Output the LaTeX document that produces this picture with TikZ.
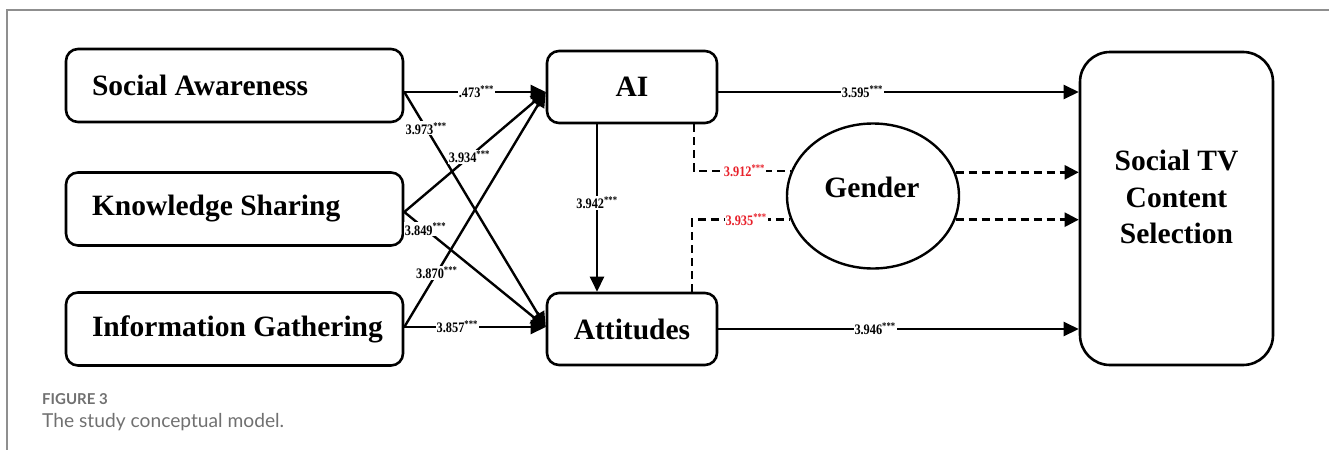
\documentclass[tikz,border=0pt]{standalone}
\usepackage{fontspec}
\setmainfont{Liberation Serif}
\newfontfamily\capfont{Lato}
\newfontfamily\labfont[FakeStretch=0.85]{Liberation Serif}
\usetikzlibrary{arrows.meta,calc,shapes.geometric}
\definecolor{framegray}{HTML}{8F8F8F}
\definecolor{capgray}{HTML}{707070}
\definecolor{labred}{HTML}{E8202A}
\newcommand{\lboxtext}[1]{\makebox[337pt][l]{\hspace{26pt}#1}}
\newcommand{\sig}{\textsuperscript{***}}
\begin{document}
\begin{tikzpicture}[x=1pt,y=-1pt,
  bigfont/.style={font=\bfseries\fontsize{29.5}{36.5}\selectfont},
  box/.style={draw, line width=2.6pt, rounded corners=12pt, inner sep=0pt, bigfont},
  lbox/.style={box, minimum width=337pt, minimum height=73pt},
  mbox/.style={box, minimum width=170pt, minimum height=72pt},
  conn/.style={line width=2.4pt, -{Triangle[length=15pt,width=14pt]}},
  dconn/.style={line width=2.4pt, dash pattern=on 8pt off 5pt},
  dconnar/.style={dconn, -{Triangle[length=14pt,width=14pt]}},
  lab/.style={fill=white, inner sep=1pt, font=\labfont\bfseries\fontsize{14.5}{16}\selectfont},
  rlab/.style={lab, text=labred},
]
\useasboundingbox (0,0) rectangle (1329,450);
% frame
\coordinate (f1) at (1329,10);
\coordinate (f2) at (7,10);
\coordinate (f3) at (7,450);
\draw[framegray, line width=1.5pt] (f1) -- (f2) -- (f3);

% nodes
\node[lbox] (sa) at (234.5,85.5) {\lboxtext{Social Awareness}};
\node[lbox] (ks) at (234.5,209) {\lboxtext{Knowledge Sharing}};
\node[lbox] (ig) at (234.5,329) {\lboxtext{Information Gathering}};
\node[mbox] (ai) at (632,87) {AI};
\node[mbox] (att) at (632,329) {Attitudes};
\node[box, rounded corners=30pt, minimum width=193pt, minimum height=313pt] (stv) at (1176.5,208.5) {};
\node[bigfont, align=center, inner sep=0pt] (stvt) at (1176.5,197) {Social TV\\Content\\Selection};
\node[draw, ellipse, line width=2.4pt, minimum width=172pt, minimum height=145pt, inner sep=0pt] (gen) at (873,196) {};
\node[bigfont, inner sep=0pt] (gent) at (872,187) {Gender};

% anchor points
\coordinate (sao) at ($(sa.east)+(0,6.5)$);
\coordinate (kso) at ($(ks.east)+(0,3)$);
\coordinate (igo) at ($(ig.east)+(0,-2)$);
\coordinate (aii) at ($(ai.west)+(0,5)$);
\coordinate (atti) at ($(att.west)+(0,-2)$);
\coordinate (aio) at ($(ai.east)+(0,5)$);
\coordinate (aib) at ($(ai.south)+(-35,0)$);
\coordinate (attt) at ($(att.north)+(-35,0)$);
\coordinate (aid) at ($(ai.south)+(62,0)$);
\coordinate (attd) at ($(att.north)+(60,0)$);

% connectors
\draw[conn] (sao) -- node[lab,pos=.51]{.473\sig} (aii);
\draw[conn] (sao) -- node[lab,pos=.155]{3.973\sig} (atti);
\draw[conn] (kso) -- node[lab,pos=.46]{3.934\sig} (aii);
\draw[conn] (kso) -- node[lab,pos=.15]{3.849\sig} (atti);
\draw[conn] (igo) -- node[lab,pos=.23]{3.870\sig} (aii);
\draw[conn] (igo) -- node[lab,pos=.375]{3.857\sig} (atti);
\draw[conn] (aib) -- node[lab,pos=.47]{3.942\sig} (attt);
\draw[conn] (aio) -- node[lab,pos=.40]{3.595\sig} (aio -| stv.west);
\draw[conn] (att.east) -- node[lab,pos=.435]{3.946\sig} (att.east -| stv.west);

% moderation (dashed)
\draw[dconn] (aid) |- node[rlab,pos=.76]{3.912\sig} (gen.163.5);
\draw[dconn] (attd) |- node[rlab,pos=.775]{3.935\sig} (gen.196.5);
\draw[dconnar] (gen.16.5) -- (gen.16.5 -| stv.west);
\draw[dconnar] (gen.-16.5) -- (gen.-16.5 -| stv.west);

% caption
\node[anchor=base west, font=\capfont\bfseries\fontsize{15}{18}\selectfont, text=capgray, inner sep=0pt] (fig) at (42,404) {FIGURE 3};
\node[anchor=base west, font=\capfont\fontsize{19.2}{23}\selectfont, text=capgray, inner sep=0pt] (cap) at (42,427) {The study conceptual model.};
\end{tikzpicture}
\end{document}
